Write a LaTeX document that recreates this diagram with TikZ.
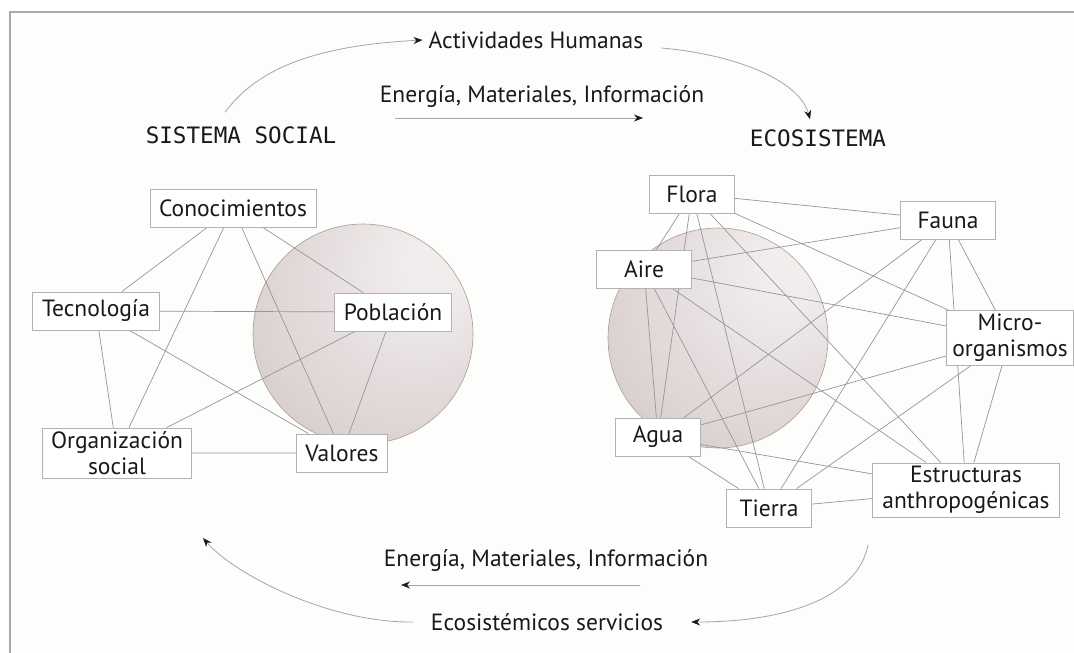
\documentclass[tikz,border=0pt]{standalone}
\usepackage{fontspec}
\setmainfont{PT Sans}
\setmonofont{DejaVu Sans Mono}
\usetikzlibrary{positioning,arrows.meta}
\definecolor{textdark}{RGB}{25,25,25}
\definecolor{linkgray}{RGB}{150,150,150}
\definecolor{boxgray}{RGB}{178,178,178}
\definecolor{flowgray}{RGB}{165,165,165}
\definecolor{framegray}{RGB}{170,170,170}
\definecolor{paper}{RGB}{253,253,251}
\definecolor{circdark}{RGB}{192,176,176}
\definecolor{circlight}{RGB}{242,237,237}
\definecolor{circrim}{RGB}{168,155,155}
\pgfdeclareradialshading{sphereshade}{\pgfpoint{18bp}{18bp}}{color(0bp)=(circlight); color(6bp)=(circlight); color(70bp)=(circdark)}
\pgfdeclarelayer{backlayer}
\pgfdeclarelayer{linklayer}
\pgfsetlayers{backlayer,linklayer,main}

\begin{document}
\begin{tikzpicture}
[x=1pt, y=-1pt,
boxnode/.style={rectangle, draw=boxgray, fill=white, line width=0.8pt, minimum width=85pt, minimum height=38pt, inner xsep=9pt, align=center, text=textdark, font=\fontsize{23.5}{26}\selectfont},
labelnode/.style={inner sep=4pt, text=textdark, font=\fontsize{23.5}{26}\selectfont},
titlenode/.style={inner sep=4pt, text=textdark, font=\ttfamily\fontsize{22.6}{26}\selectfont},
link/.style={draw=linkgray, line width=0.7pt},
flow/.style={draw=flowgray, line width=0.8pt, -{Stealth[length=9pt,width=7pt,color=textdark]}},
sphere/.style={shade, shading=sphereshade, draw=circrim, line width=0.6pt},
]
\useasboundingbox (0,0) rectangle (1074,653);

\node[titlenode]	(soc) at (241,135) {SISTEMA SOCIAL};
\node[titlenode]	(eco) at (818,138) {ECOSISTEMA};
\node[labelnode]	(act) at (536,40) {Actividades Humanas};
\node[labelnode]	(enTop) at (542,97) {Energía, Materiales, Información};
\node[labelnode]	(enBot) at (546,561) {Energía, Materiales, Información};
\node[labelnode]	(serv) at (547,622) {Ecosistémicos servicios};

\coordinate (topL) at (395,118);
\coordinate (topR) at (643,118);
\coordinate (botR) at (640,585);
\coordinate (botL) at (401,585);
\coordinate (ecoOut) at (868,545);
\coordinate (socIn) at (203,538);

\draw[flow] ([shift={(-16,-10)}]soc.north) .. controls (262,62) and (330,45) .. ([xshift=-2pt]act.west);
\draw[flow] ([shift={(14,8)}]act.east) .. controls (740,55) and (800,82) .. ([shift={(-8,-6)}]eco.north);
\draw[flow] (topL) -- (topR);
\draw[flow] (botR) -- (botL);
\draw[flow] ([xshift=-14pt]serv.west) .. controls (330,623) and (235,575) .. (socIn);
\draw[flow] (ecoOut) .. controls (858,596) and (790,622) .. ([xshift=24pt]serv.east);

\node[boxnode]	(Con) at (233,208) {Conocimientos};
\node[boxnode, minimum width=127pt]	(Tec) at (96,311) {Tecnología};
\node[boxnode, minimum width=114pt]	(Pob) at (393,312) {Población};
\node[boxnode, minimum width=149pt, inner xsep=4pt]	(Org) at (117,453) {Organización\\social};
\node[boxnode, minimum width=91pt]	(Val) at (342,453) {Valores};

\node[boxnode]	(Flo) at (692,194) {Flora};
\node[boxnode, minimum width=95pt]	(Fau) at (948,220) {Fauna};
\node[boxnode, minimum width=95pt]	(Air) at (644,269) {Aire};
\node[boxnode, minimum width=127pt, inner xsep=4pt]	(Mic) at (1010,338) {Micro-\\organismos};
\node[boxnode]	(Agu) at (658,437) {Agua};
\node[boxnode]	(Tie) at (769,508) {Tierra};
\node[boxnode, minimum width=187pt, inner xsep=4pt]	(Est) at (966,490) {Estructuras\\anthropogénicas};

\begin{pgfonlayer}{backlayer}
\fill[paper] (10,12) rectangle (1074,653);
\draw[framegray, line width=1.2pt] (10,653) -- (10,12) -- (1074,12);
\path[sphere] (363,334) circle[radius=110];
\path[sphere] (718,338) circle[radius=110];
\end{pgfonlayer}

\begin{pgfonlayer}{linklayer}
\draw[link] (Con) -- (Tec) (Con) -- (Org) (Con) -- (Val) (Con) -- (Pob);
\draw[link] (Tec) -- (Pob) (Tec) -- (Org) (Tec) -- (Val);
\draw[link] (Pob) -- (Org) (Pob) -- (Val) (Org) -- (Val);

\draw[link] (Flo) -- (Fau) (Flo) -- (Air) (Flo) -- (Agu) (Flo) -- (Tie) (Flo) -- (Mic) (Flo) -- (Est);
\draw[link] (Fau) -- (Air) (Fau) -- (Agu) (Fau) -- (Tie) (Fau) -- (Mic) (Fau) -- (Est);
\draw[link] (Air) -- (Mic) (Air) -- (Agu) (Air) -- (Tie) (Air) -- (Est);
\draw[link] (Mic) -- (Agu) (Mic) -- (Tie) (Mic) -- (Est);
\draw[link] (Agu) -- (Tie) (Agu) -- (Est) (Tie) -- (Est);
\end{pgfonlayer}
\end{tikzpicture}
\end{document}
